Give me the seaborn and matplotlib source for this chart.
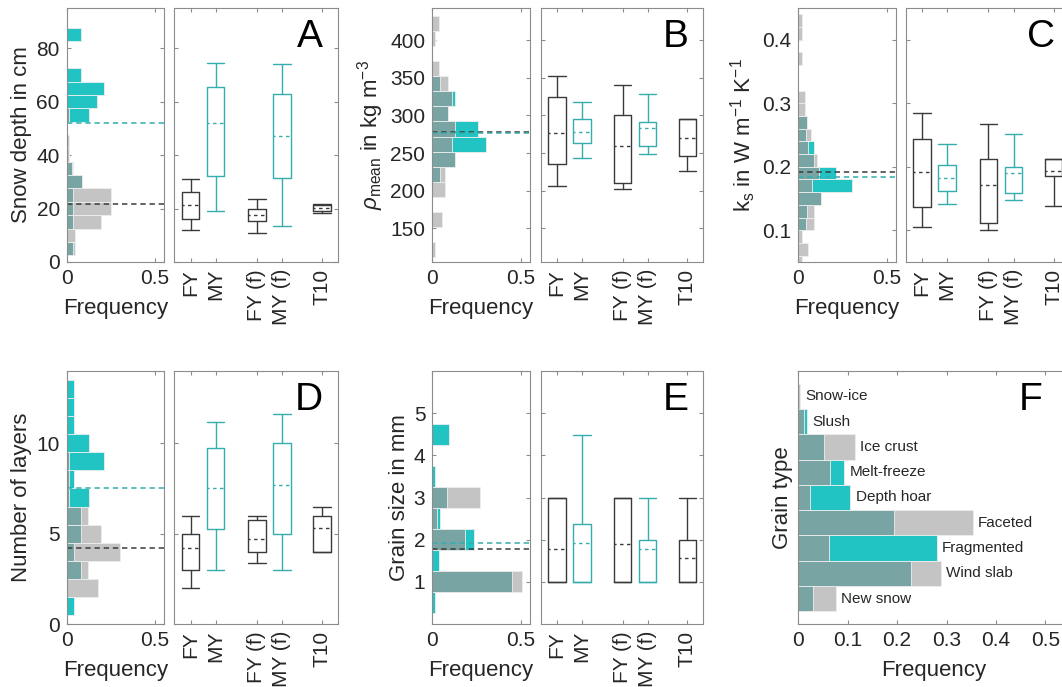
import matplotlib

matplotlib.use("Agg")
import matplotlib.pyplot as plt
import pandas as pd
import seaborn as sns

TEAL = "#22c3c3"
GREY = "#c4c4c4"
MIXED = "#78a5a3"
TEAL_LINE = "#35adad"
DARK_LINE = "#3a3a3a"
TEXT = "#262626"
SPINE = "#8c8c8c"

GROUPS = ["FY", "MY", "FY (f)", "MY (f)", "T10"]
GROUP_POS = [1, 2, 3.65, 4.65, 6.25]
GROUP_IS_MY = [False, True, False, True, False]

# A: snow depth (cm), 5 cm bins
depth_bins = [5, 10, 15, 20, 25, 30, 35, 40, 45, 50, 55, 60, 65, 70, 75, 80, 85]
depth_my = [0.037, 0, 0.037, 0.037, 0.037, 0.085, 0.03, 0, 0, 0, 0.125, 0.17, 0.21, 0.08, 0, 0, 0.08]
depth_fy = [0.047, 0.047, 0.195, 0.25, 0.25, 0.085, 0.035, 0.013, 0.013, 0, 0.015, 0, 0, 0, 0, 0, 0]
depth_mean_fy, depth_mean_my = 21.6, 52.0
depth_box = [(12, 16, 21.5, 26, 31), (19, 32, 52, 65.5, 74.5), (11, 15.4, 17.5, 20, 23.4),
             (13.5, 31.5, 47, 62.8, 74.2), (18.2, 19.1, 20.3, 21.4, 21.6)]

# B: mean density (kg m-3), 20 kg m-3 bins
dens_bins = [122, 142, 162, 182, 202, 222, 242, 262, 282, 302, 322, 342, 362, 382, 402, 422]
dens_my = [0, 0, 0, 0, 0, 0.043, 0.127, 0.30, 0.258, 0.088, 0.129, 0.043, 0, 0, 0, 0]
dens_fy = [0.017, 0, 0.052, 0, 0.071, 0.071, 0.127, 0.109, 0.129, 0.088, 0.109, 0.088, 0.036, 0, 0.017, 0.036]
dens_mean_fy, dens_mean_my = 277.5, 276.5
dens_box = [(206, 236, 277, 325, 353), (244, 263, 278, 295, 318.5), (201.5, 210, 259, 300, 340.5),
            (249, 259.5, 283, 291.5, 328), (226, 246, 270, 295, 295)]

# C: thermal conductivity (W m-1 K-1), 0.02 bins
cond_bins = [0.05, 0.07, 0.09, 0.11, 0.13, 0.15, 0.17, 0.19, 0.21, 0.23,
             0.25, 0.27, 0.29, 0.31, 0.33, 0.35, 0.37, 0.39, 0.41, 0.43]
cond_my = [0, 0, 0, 0.043, 0.047, 0.125, 0.30, 0.215, 0.09, 0.086, 0.043, 0.05, 0, 0, 0, 0, 0, 0, 0, 0]
cond_fy = [0.019, 0.052, 0.019, 0.088, 0.088, 0.125, 0.075, 0.114, 0.108, 0.056,
           0.071, 0.05, 0.035, 0.035, 0, 0, 0.019, 0, 0.019, 0.019]
cond_mean_fy, cond_mean_my = 0.1925, 0.184
cond_box = [(0.105, 0.136, 0.192, 0.243, 0.284), (0.142, 0.162, 0.183, 0.203, 0.236),
            (0.101, 0.112, 0.171, 0.212, 0.267), (0.147, 0.159, 0.19, 0.20, 0.251),
            (0.138, 0.185, 0.193, 0.212, 0.212)]

# D: number of layers
layer_bins = [1, 2, 3, 4, 5, 6, 7, 8, 9, 10, 11, 12, 13]
layer_my = [0.04, 0, 0.082, 0.04, 0.082, 0.082, 0.125, 0.04, 0.21, 0.125, 0.04, 0.04, 0.04]
layer_fy = [0, 0.178, 0.12, 0.30, 0.195, 0.12, 0.015, 0.015, 0.015, 0, 0, 0, 0]
layer_mean_fy, layer_mean_my = 4.2, 7.55
layer_box = [(2, 3, 4.2, 5, 6), (3, 5.25, 7.55, 9.75, 11.2), (3.4, 4, 4.7, 5.75, 6),
             (3, 5, 7.67, 10, 11.6), (4, 4, 5.33, 6, 6.5)]

# E: grain size (mm), 0.5 mm bins
grain_bins = [0.5, 1.0, 1.5, 2.0, 2.5, 3.0, 3.5, 4.0, 4.5]
grain_my = [0.017, 0.45, 0.039, 0.236, 0.043, 0.08, 0.017, 0, 0.095]
grain_fy = [0, 0.505, 0, 0.183, 0.028, 0.27, 0, 0, 0]
grain_mean_fy, grain_mean_my = 1.775, 1.91
grain_box = [(1, 1, 1.77, 3, 3), (1, 1, 1.91, 2.37, 4.49), (1, 1, 1.89, 3, 3),
             (1, 1, 1.79, 2, 3), (1, 1, 1.56, 2, 3)]

# F: grain type frequency
grain_types = ["Snow-ice", "Slush", "Ice crust", "Melt-freeze", "Depth hoar",
               "Faceted", "Fragmented", "Wind slab", "New snow"]
type_my = [0, 0.018, 0.053, 0.093, 0.105, 0.193, 0.28, 0.228, 0.029]
type_fy = [0.004, 0.012, 0.114, 0.064, 0.023, 0.353, 0.063, 0.288, 0.076]

W, H = 1062, 687


def configure_plot_style():
    sns.set_style("ticks")
    plt.rcParams.update(
        {
            "font.family": ["Liberation Sans", "DejaVu Sans"],
            "font.size": 15,
            "mathtext.fontset": "custom",
            "mathtext.rm": "Liberation Sans",
            "mathtext.it": "Liberation Sans:italic",
            "text.color": TEXT,
            "axes.labelcolor": TEXT,
            "axes.edgecolor": SPINE,
            "axes.linewidth": 0.8,
            "xtick.color": SPINE,
            "ytick.color": SPINE,
            "xtick.labelcolor": TEXT,
            "ytick.labelcolor": TEXT,
            "xtick.labelsize": 15,
            "ytick.labelsize": 15,
            "axes.labelsize": 16,
        }
    )


def px_axes(fig, x0, y0, x1, y1):
    return fig.add_axes([x0 / W, 1 - y1 / H, (x1 - x0) / W, (y1 - y0) / H])


def style_ticks(ax):
    ax.tick_params(direction="in", top=True, right=True, length=3, width=0.8, pad=5)


def plot_hist(ax, bins, my, fy, mean_fy, mean_my, ylim, yticks, ylabel):
    step = bins[1] - bins[0]
    for c, m, f in zip(bins, my, fy):
        if m > f:
            ax.barh(c, m, height=step, color=TEAL, edgecolor="#eeeeee", linewidth=0.6)
        elif f > m:
            ax.barh(c, f, height=step, color=GREY, edgecolor="#eeeeee", linewidth=0.6)
        low = min(m, f)
        if low > 0:
            ax.barh(c, low, height=step, color=MIXED, edgecolor="#eeeeee", linewidth=0.6)
    ax.axhline(mean_fy, color=DARK_LINE, lw=1.1, dashes=(3.5, 2.5))
    ax.axhline(mean_my, color=TEAL_LINE, lw=1.1, dashes=(3.5, 2.5))
    ax.set_xlim(0, 0.55)
    ax.set_ylim(*ylim)
    ax.set_xticks([0, 0.5], ["0", "0.5"])
    ax.set_yticks(yticks)
    ax.set_xlabel("Frequency", labelpad=7)
    ax.set_ylabel(ylabel, labelpad=3)
    style_ticks(ax)


def plot_boxes(ax, stats, ylim, yticks, letter):
    for (lo, q1, med, q3, hi), pos, is_my in zip(stats, GROUP_POS, GROUP_IS_MY):
        c = TEAL_LINE if is_my else DARK_LINE
        ax.bxp(
            [{"whislo": lo, "q1": q1, "med": med, "q3": q3, "whishi": hi, "fliers": []}],
            positions=[pos], widths=0.7, capwidths=0.7, showfliers=False,
            boxprops=dict(color=c, lw=1.0), whiskerprops=dict(color=c, lw=1.0),
            capprops=dict(color=c, lw=1.0),
            medianprops=dict(color=c, lw=1.0, linestyle=(1, (2.5, 2.5))),
        )
    ax.set_xlim(0.35, 6.9)
    ax.set_ylim(*ylim)
    ax.set_xticks(GROUP_POS, GROUPS, rotation=90)
    ax.set_yticks(yticks)
    ax.set_yticklabels([])
    style_ticks(ax)
    ax.text(0.91, 0.955, letter, transform=ax.transAxes, ha="right", va="top",
            fontsize=28, color="black")


def plot_types(ax):
    df = pd.DataFrame({"type": grain_types, "my": type_my, "fy": type_fy})
    df["top"] = df[["my", "fy"]].max(axis=1)
    df["low"] = df[["my", "fy"]].min(axis=1)
    top_colors = {t: (TEAL if m > f else GREY) for t, m, f in zip(df["type"], df["my"], df["fy"])}
    sns.barplot(data=df, x="top", y="type", hue="type", palette=top_colors, order=grain_types,
                orient="y", width=1.0, saturation=1, edgecolor="#eeeeee", linewidth=0.6,
                legend=False, ax=ax)
    sns.barplot(data=df, x="low", y="type", order=grain_types, color=MIXED, orient="y",
                width=1.0, saturation=1, edgecolor="#eeeeee", linewidth=0.6, ax=ax)
    for i, (name, top) in enumerate(zip(df["type"], df["top"])):
        ax.text(top + 0.011, i, name, va="center", ha="left", fontsize=11, color=TEXT)
    ax.set_xlim(0, 0.55)
    ax.set_ylim(9, -1)
    ax.set_xticks([0, 0.1, 0.2, 0.3, 0.4, 0.5], ["0", "0.1", "0.2", "0.3", "0.4", "0.5"])
    ax.set_yticks([])
    ax.set_xlabel("Frequency", labelpad=7)
    ax.set_ylabel("Grain type", labelpad=4)
    style_ticks(ax)
    ax.tick_params(left=False, right=False)
    ax.text(0.9, 0.955, "F", transform=ax.transAxes, ha="right", va="top",
            fontsize=28, color="black")


def main():
    configure_plot_style()
    fig = plt.figure(figsize=(W / 100, H / 100), dpi=100)

    top, bot = (8, 262), (371, 624)
    cols = [((66.7, 164), (174.3, 338)), ((432.3, 530), (541, 703.3)), ((798.3, 896), (905.7, 1070))]

    panels = [
        (cols[0], top, depth_bins, depth_my, depth_fy, depth_mean_fy, depth_mean_my, depth_box,
         (0, 95), [0, 20, 40, 60, 80], "Snow depth in cm", "A"),
        (cols[1], top, dens_bins, dens_my, dens_fy, dens_mean_fy, dens_mean_my, dens_box,
         (105, 443), [150, 200, 250, 300, 350, 400], r"$\rho_{\mathrm{mean}}$ in kg m$^{-3}$", "B"),
        (cols[2], top, cond_bins, cond_my, cond_fy, cond_mean_fy, cond_mean_my, cond_box,
         (0.05, 0.45), [0.1, 0.2, 0.3, 0.4], r"k$_{\mathrm{s}}$ in W m$^{-1}$ K$^{-1}$", "C"),
        (cols[0], bot, layer_bins, layer_my, layer_fy, layer_mean_fy, layer_mean_my, layer_box,
         (0, 14), [0, 5, 10], "Number of layers", "D"),
        (cols[1], bot, grain_bins, grain_my, grain_fy, grain_mean_fy, grain_mean_my, grain_box,
         (0, 6), [1, 2, 3, 4, 5], "Grain size in mm", "E"),
    ]
    for (hx, bx), (y0, y1), bins, my, fy, mfy, mmy, box, ylim, yt, ylabel, letter in panels:
        ax_h = px_axes(fig, hx[0], y0, hx[1], y1)
        plot_hist(ax_h, bins, my, fy, mfy, mmy, ylim, yt, ylabel)
        ax_b = px_axes(fig, bx[0], y0, bx[1], y1)
        plot_boxes(ax_b, box, ylim, yt, letter)

    ax_f = px_axes(fig, 798.3, bot[0], 1070, bot[1])
    plot_types(ax_f)

    fig.savefig("out.png", dpi=100)
    plt.close(fig)


if __name__ == "__main__":
    main()
